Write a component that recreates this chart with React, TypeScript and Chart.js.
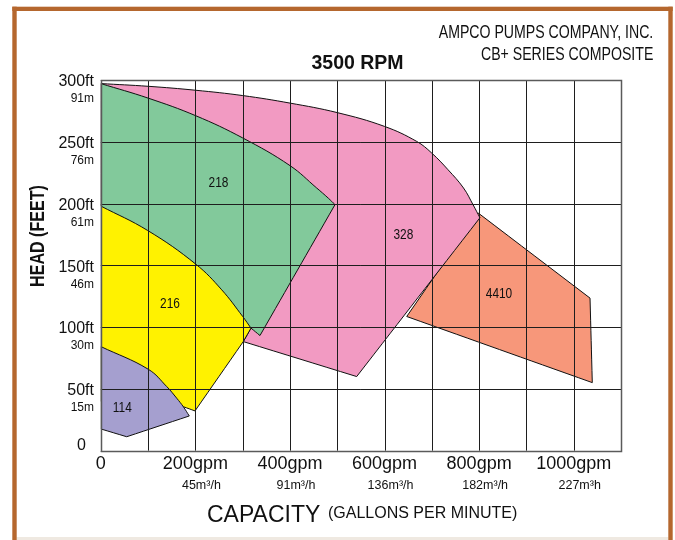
import React, { useEffect, useRef } from 'react';
import { Chart, registerables } from 'chart.js';

Chart.register(...registerables);

// ---- text ----
const chartTitle = '3500 RPM';
const companyLines = ['AMPCO PUMPS COMPANY, INC.', 'CB+ SERIES COMPOSITE'];
const yAxisTitle = 'HEAD (FEET)';
const xAxisTitle = 'CAPACITY';
const xAxisSubtitle = '(GALLONS PER MINUTE)';

// ---- ticks ----
const yTickValues = [0, 50, 100, 150, 200, 250, 300];
const yTickFeet = ['0', '50ft', '100ft', '150ft', '200ft', '250ft', '300ft'];
const yTickMeters = ['', '15m', '30m', '46m', '61m', '76m', '91m'];
const xTickValues = [0, 200, 400, 600, 800, 1000];
const xTickGpm = ['0', '200gpm', '400gpm', '600gpm', '800gpm', '1000gpm'];
const xTickM3h = ['', '45m³/h', '91m³/h', '136m³/h', '182m³/h', '227m³h'];

// ---- pump regions (capacity gpm, head ft) ----
const pumpNames = ['114', '216', '218', '328', '4410'];

const pump114Gpm = [0, 100.4, 139.4, 160.5, 174.5, 187.1, 54.8, 0];
const pump114Ft = [84.3, 65.9, 51.9, 42.5, 35.6, 28.1, 11.3, 17.6];
const pump114Corners = [5, 6, 7];

const pump216Gpm = [0, 99.2, 200.7, 255.7, 300.1, 317.6, 301.3, 199.2, 174.5, 140, 0];
const pump216Ft = [198, 178.2, 151.0, 130.2, 108.6, 99.2, 88.3, 32.2, 35.6, 40, 40];
const pump216Corners = [5, 6, 7, 8, 9, 10];

const pump218Gpm = [0, 100.4, 200.7, 300.1, 400.1, 456.5, 481, 495.2, 336.6, 317.6, 0];
const pump218Ft = [297.1, 285.3, 271.1, 253.1, 230.7, 212.6, 204.4, 199.1, 93.2, 99.2, 198];
const pump218Corners = [7, 8, 9, 10];

const pump328Gpm = [0, 100.4, 200.7, 300.1, 400.1, 500.1, 599.5, 668.0, 699.7, 734.2, 767, 787.1, 801.7, 541.1, 301.3, 317.6, 0];
const pump328Ft = [297.1, 294.9, 291.7, 287.4, 281.3, 273.6, 262.5, 250.3, 240.9, 227.4, 212.6, 199.1, 188.5, 60.0, 88.3, 99.2, 198];
const pump328Corners = [12, 13, 14, 15, 16];

const pump4410Gpm = [798.3, 1034.5, 1039.3, 646.9];
const pump4410Ft = [192.3, 123.5, 55.1, 108.6];
const pump4410Corners = [1, 2, 3];

const pumpGpm = [pump114Gpm, pump216Gpm, pump218Gpm, pump328Gpm, pump4410Gpm];
const pumpFt = [pump114Ft, pump216Ft, pump218Ft, pump328Ft, pump4410Ft];
const pumpCorners = [pump114Corners, pump216Corners, pump218Corners, pump328Corners, pump4410Corners];
const pumpColors = ['#a59fcf', '#fff200', '#82c99b', '#f29ac2', '#f7977a'];

const labelGpm = [45.5, 146.3, 248.8, 639.7, 842];
const labelFt = [35.6, 119.4, 217.4, 175.3, 127.5];

const FONT = '"Liberation Sans", Arial, sans-serif';

function drawText(
  ctx: CanvasRenderingContext2D,
  s: string,
  x: number,
  y: number,
  size: number,
  opts: { weight?: string; align?: CanvasTextAlign; sx?: number; rotate?: number } = {}
) {
  const { weight = 'normal', align = 'center', sx = 1, rotate = 0 } = opts;
  ctx.save();
  ctx.font = `${weight} ${size}px ${FONT}`;
  ctx.fillStyle = '#111';
  ctx.textAlign = align;
  ctx.textBaseline = 'alphabetic';
  ctx.translate(x, y);
  if (rotate) ctx.rotate(rotate);
  ctx.scale(sx, 1);
  ctx.fillText(s, 0, 0.358 * size);
  ctx.restore();
}

const framePlugin = {
  id: 'frame',
  beforeDraw(chart: any) {
    const ctx = chart.ctx as CanvasRenderingContext2D;
    ctx.save();
    ctx.fillStyle = '#ffffff';
    ctx.fillRect(0, 0, chart.width, chart.height);
    ctx.fillStyle = '#efe9e1';
    ctx.fillRect(16.5, 537, 652, 3);
    ctx.fillStyle = '#b5672e';
    ctx.fillRect(12.3, 6.7, 4.4, 540);
    ctx.fillRect(12.3, 6.7, 660.4, 4.3);
    ctx.fillRect(668.3, 6.7, 4.4, 540);
    ctx.restore();
  },
};

// grid lines lie over the coloured regions, as in the reference
const overGridPlugin = {
  id: 'overGrid',
  afterDatasetsDraw(chart: any) {
    const ctx = chart.ctx as CanvasRenderingContext2D;
    const a = chart.chartArea;
    const xs = chart.scales.x;
    const ys = chart.scales.y;
    ctx.save();
    ctx.strokeStyle = '#1e1e1e';
    ctx.lineWidth = 1;
    xs.ticks.forEach((t: any) => {
      const px = Math.round(xs.getPixelForValue(t.value)) + 0.5;
      ctx.beginPath();
      ctx.moveTo(px, a.top);
      ctx.lineTo(px, a.bottom);
      ctx.stroke();
    });
    ys.ticks.forEach((t: any) => {
      const py = Math.round(ys.getPixelForValue(t.value)) + 0.5;
      ctx.beginPath();
      ctx.moveTo(a.left, py);
      ctx.lineTo(a.right, py);
      ctx.stroke();
    });
    ctx.strokeStyle = '#5a5a5a';
    ctx.lineWidth = 1.5;
    ctx.strokeRect(
      Math.round(a.left) + 0.5,
      Math.round(a.top) + 0.5,
      Math.round(a.right) - Math.round(a.left),
      Math.round(a.bottom) - Math.round(a.top)
    );
    ctx.restore();
  },
};

const textPlugin = {
  id: 'texts',
  afterDraw(chart: any) {
    const ctx = chart.ctx as CanvasRenderingContext2D;
    const xs = chart.scales.x;
    const ys = chart.scales.y;
    const area = chart.chartArea;

    pumpNames.forEach((n, i) => {
      drawText(ctx, n, xs.getPixelForValue(labelGpm[i]), ys.getPixelForValue(labelFt[i]), 14.5, { sx: 0.82 });
    });

    yTickValues.forEach((v, i) => {
      const py = ys.getPixelForValue(v);
      if (i === 0) {
        drawText(ctx, yTickFeet[i], area.left - 15, py - 6, 16, { align: 'right' });
        return;
      }
      drawText(ctx, yTickFeet[i], area.left - 6.8, py + 0.5, 16, { align: 'right' });
      drawText(ctx, yTickMeters[i], area.left - 6.8, py + 18, 12, { align: 'right' });
    });

    xTickValues.forEach((v, i) => {
      const px = xs.getPixelForValue(v);
      drawText(ctx, xTickGpm[i], px, area.bottom + 12, 18);
      if (xTickM3h[i]) drawText(ctx, xTickM3h[i], px + 6, area.bottom + 34, 12.5);
    });

    drawText(ctx, chartTitle, 357.5, 61.7, 19.5, { weight: 'bold' });
    drawText(ctx, companyLines[0], 653.3, 31.7, 18, { align: 'right', sx: 0.785 });
    drawText(ctx, companyLines[1], 653.3, 53.3, 18, { align: 'right', sx: 0.785 });
    drawText(ctx, yAxisTitle, 36.7, 236, 20.5, { weight: 'bold', sx: 0.785, rotate: -Math.PI / 2 });
    drawText(ctx, xAxisTitle, 207, 514, 23, { align: 'left' });
    drawText(ctx, xAxisSubtitle, 328, 512.5, 16, { align: 'left' });
  },
};

export default function App() {
  const ref = useRef<HTMLCanvasElement | null>(null);

  useEffect(() => {
    if (!ref.current) return;
    const datasets = pumpNames.map((name, i) => {
      const pts: { x: number; y: number }[] = [];
      pumpGpm[i].forEach((g, j) => {
        const p = { x: g, y: pumpFt[i][j] };
        pts.push(p);
        // a corner is repeated so the smoothing keeps the edges on each side straight
        if (pumpCorners[i].includes(j)) pts.push({ ...p });
      });
      pts.push({ x: pumpGpm[i][0], y: pumpFt[i][0] });
      return {
        label: name,
        data: pts,
        borderColor: '#111',
        borderWidth: 1,
        backgroundColor: pumpColors[i],
        fill: 'shape' as any,
        pointRadius: 0,
        tension: 0.4,
        order: i,
      };
    });

    const chart = new Chart(ref.current, {
      type: 'line',
      data: { datasets: datasets as any },
      options: {
        animation: false,
        responsive: false,
        layout: { padding: { left: 100.8, right: 54, top: 80, bottom: 89.3 } },
        plugins: {
          legend: { display: false },
          tooltip: { enabled: false },
          title: { display: false },
        },
        scales: {
          x: {
            type: 'linear',
            min: 0,
            max: 1100,
            ticks: { display: false, stepSize: 100 },
            grid: { display: false, drawTicks: false },
            border: { display: false },
          },
          y: {
            type: 'linear',
            min: 0,
            max: 300,
            ticks: { display: false, stepSize: 50 },
            grid: { display: false, drawTicks: false },
            border: { display: false },
          },
        },
      },
      plugins: [framePlugin, overGridPlugin, textPlugin],
    });
    return () => chart.destroy();
  }, []);

  return (
    <div style={{ position: 'absolute', left: 0, top: 0, width: 675, height: 540 }}>
      <canvas ref={ref} width={675} height={540} style={{ display: 'block', width: 675, height: 540 }} />
    </div>
  );
}
